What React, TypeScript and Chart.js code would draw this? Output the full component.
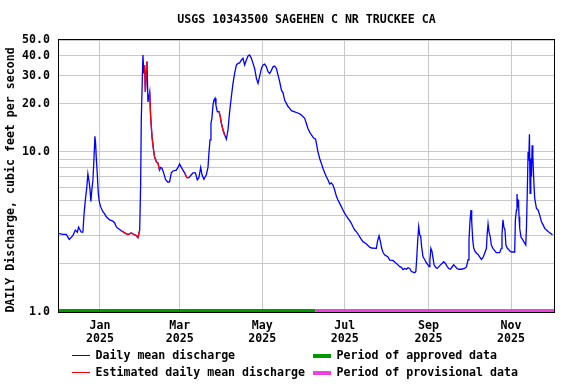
import React, { useEffect, useRef } from 'react';
import { Chart, registerables } from 'chart.js';

Chart.register(...registerables);

const TITLE = 'USGS 10343500 SAGEHEN C NR TRUCKEE CA';
const Y_TITLE = 'DAILY Discharge, cubic feet per second';

// Days counted from 2024-12-01
const flowDays = [
  0, 3.6, 6.1, 8.3, 11, 12.8, 14.3, 15.2, 17.2, 18.4, 19.2, 20.2, 21.2, 22.1, 22.9, 23.6, 24.3, 25.1, 25.8, 26.6,
  27.3, 27.8, 28.3, 29, 29.8, 30.5, 31.5, 33.2, 34.5, 35.7, 38.2, 40.6, 41.9, 43.1, 44.3, 46.8, 49.3, 51.7, 54.2, 56.1,
  57.9, 59.1, 60.4, 61.1, 61.6, 62.8, 63.5, 64, 64.6, 65.3, 65.8, 66.5, 67.8, 68.5, 69.5, 70.5, 71.4, 72.7, 73.9, 75.1,
  75.9, 76.9, 78.1, 79.6, 81.3, 82.5, 83.8, 85, 87.5, 88.7, 89.9, 91.2, 92.4, 93.6, 95.3, 96.8, 98.6, 99.8, 101.6, 103,
  104.2, 105.5, 106.5, 107.9, 109.7, 110.9, 111.6, 112.4, 113.1, 113.8, 114.6, 115.3, 116.1, 116.8, 117.8, 119, 120, 120.8, 122, 123.2,
  124.5, 125.7, 126.9, 128.2, 129.4, 130.6, 131.9, 133.1, 134.3, 135.6, 136.8, 138, 139.3, 140.5, 141.7, 143, 144.2, 145.4, 146.7, 147.9,
  149.1, 150.4, 151.6, 152.8, 154.1, 155.3, 156.5, 157.8, 159, 160.2, 161.5, 162.7, 163.9, 165.2, 166.4, 167.6, 168.9, 170.1, 171.3, 172.6,
  175, 177.4, 178.7, 179.9, 182.4, 183.6, 184.8, 186.1, 187.3, 189, 190.5, 191.5, 192.2, 193.5, 194.7, 195.9, 197.2, 198.4, 199.6, 200.9,
  202.1, 203.3, 204.6, 205.8, 207, 208.3, 209.5, 210.7, 212, 213.2, 214.4, 215.7, 216.9, 218.1, 219.4, 220.6, 221.8, 223.1, 224.3, 225.5,
  226.8, 228, 229.2, 230.5, 231.7, 235.4, 236.2, 237.4, 238.4, 239.3, 240.3, 241.6, 242.8, 244, 245.3, 247.7, 249, 250.2, 251.4, 252.7,
  253.9, 255.1, 256.4, 257.6, 258.8, 260.1, 261.3, 263.8, 264.6, 265.3, 266, 266.7, 267.5, 268.2, 268.9, 269.9, 271.2, 272.4, 273.6, 274.4,
  275, 275.7, 276.5, 277.3, 278.1, 279.1, 280.3, 281.7, 282.8, 284, 285.2, 286.5, 287.7, 288.9, 290.2, 291.4, 292.6, 293.9, 295, 296.3,
  298.3, 300.7, 302, 303.2, 303.9, 304.7, 305.4, 305.9, 306.7, 307.4, 308.3, 309.4, 310.6, 311.8, 313.1, 314.3, 315.5, 316.8, 317.3, 318,
  318.7, 319.7, 320.4, 321.6, 322.9, 324.1, 326.6, 327.8, 328.3, 329, 329.7, 330.5, 331.2, 332.3, 333.5, 334.5, 335.5, 337.7, 338.2, 339,
  339.4, 339.9, 340.5, 340.9, 341.4, 342.4, 343.4, 344.4, 345.9, 346.4, 347.1, 347.6, 348.1, 348.6, 349.1, 349.6, 350.1, 350.6, 351.1, 351.9,
  352.5, 353.8, 355, 356.2, 357.5, 358.7, 359.9, 361.2, 362.4, 363.6, 364.9, 365.6,
];

const flowValues = [
  3.1, 3.05, 3.05, 2.84, 3.0, 3.25, 3.15, 3.39, 3.15, 3.15, 4.03, 5.0, 5.9, 7.3, 6.6, 5.9, 4.9, 5.9, 6.6, 9.1,
  12.5, 11.3, 9.2, 7.4, 5.5, 4.9, 4.55, 4.23, 4.1, 3.93, 3.76, 3.7, 3.6, 3.41, 3.33, 3.22, 3.12, 3.05, 3.12, 3.05,
  3.0, 2.92, 3.25, 6.2, 16.2, 40.3, 30.9, 34.9, 23.7, 32.3, 36.7, 20.5, 23.7, 16.6, 12.5, 10.5, 9.3, 8.7, 8.5, 7.7,
  8.0, 7.9, 7.4, 6.7, 6.46, 6.5, 7.4, 7.6, 7.7, 8.0, 8.4, 8.0, 7.7, 7.4, 6.9, 6.9, 7.2, 7.4, 7.4, 6.7,
  6.9, 8.0, 7.2, 6.74, 7.2, 8.0, 9.8, 11.9, 15.1, 16.2, 19.6, 21.0, 21.6, 19.6, 17.8, 17.9, 16.6, 15.1, 13.7, 12.8,
  12.0, 13.7, 17.8, 22.2, 26.8, 30.9, 34.9, 35.7, 36, 37.5, 38.4, 34.9, 37.5, 39.7, 40.3, 38.4, 35.7, 33.2, 28.8, 26.8,
  29.6, 33.2, 34.9, 35.3, 34.0, 31.7, 30.9, 32.3, 34.0, 34.4, 33.2, 30.2, 27.5, 24.3, 23.4, 21.0, 20.1, 19.2, 18.7, 18.1,
  17.8, 17.5, 17.3, 17.0, 16.2, 15.1, 14.0, 13.3, 12.8, 12.2, 12.0, 10.8, 10.0, 9.1, 8.5, 7.9, 7.4, 7.0, 6.7, 6.3,
  6.4, 6.2, 5.78, 5.3, 5.0, 4.77, 4.55, 4.34, 4.13, 3.98, 3.85, 3.72, 3.58, 3.41, 3.25, 3.18, 3.07, 2.95, 2.84, 2.75,
  2.71, 2.66, 2.6, 2.54, 2.51, 2.5, 2.75, 2.99, 2.75, 2.51, 2.36, 2.27, 2.24, 2.21, 2.11, 2.1, 2.05, 2.01, 1.97, 1.92,
  1.9, 1.84, 1.87, 1.85, 1.89, 1.87, 1.79, 1.76, 1.79, 2.2, 2.82, 3.41, 3.03, 2.97, 2.55, 2.21, 2.12, 2.03, 1.97, 1.92,
  2.12, 2.5, 2.4, 2.17, 1.97, 1.91, 1.87, 1.92, 1.97, 2.01, 2.06, 2.01, 1.93, 1.87, 1.85, 1.91, 1.97, 1.92, 1.87, 1.85,
  1.85, 1.87, 1.91, 2.12, 2.82, 3.76, 4.34, 3.7, 2.8, 2.5, 2.4, 2.33, 2.29, 2.21, 2.13, 2.19, 2.33, 2.5, 3.03, 3.55,
  3.17, 2.93, 2.62, 2.5, 2.42, 2.35, 2.35, 2.5, 3.03, 3.76, 3.4, 3.25, 2.62, 2.5, 2.44, 2.39, 2.37, 2.37, 3.76, 4.34,
  5.45, 4.5, 5.05, 3.93, 3.33, 2.92, 2.85, 2.75, 2.62, 3.4, 6.06, 10.0, 8.8, 12.9, 5.5, 9.1, 7.0, 11.0, 9.5, 6.36,
  5.13, 4.43, 4.34, 4.03, 3.66, 3.5, 3.33, 3.25, 3.18, 3.13, 3.07, 3.03,
];

// Estimated (red) day ranges
const estimatedRanges = [
  [46.8, 60.4],
  [64, 65.8],
  [67.8, 75.1],
  [93.6, 96.8],
  [119, 123.2],
];

const monthTickDays = [31, 90, 151, 212, 274, 335];
const monthTickLabels = [
  ['Jan', '2025'],
  ['Mar', '2025'],
  ['May', '2025'],
  ['Jul', '2025'],
  ['Sep', '2025'],
  ['Nov', '2025'],
];
const yGridValues = [1, 2, 3, 4, 5, 6, 7, 8, 9, 10, 20, 30, 40, 50];
const yLabelValues = [1, 10, 20, 30, 40, 50];
const approvedEndDay = 190.5;
const xMinDay = 0;
const xMaxDay = 367.5;

const legendLines = [
  { label: 'Daily mean discharge', color: '#0000ff' },
  { label: 'Estimated daily mean discharge', color: '#ff0000' },
];
const legendBoxes = [
  { label: 'Period of approved data', color: '#009900' },
  { label: 'Period of provisional data', color: '#f040e0' },
];

const FONT_FAMILY = '"DejaVu Sans Mono", "Liberation Mono", monospace';
const FONT_SIZE = 11.6;
const FONT = `bold ${FONT_SIZE}px ${FONT_FAMILY}`;

const decorPlugin = {
  id: 'decor',
  afterDraw(chart: any) {
    const { ctx, chartArea } = chart;
    const { left, right, top, bottom } = chartArea;
    const xs = chart.scales.x;
    ctx.save();
    // approval bars
    const xa = xs.getPixelForValue(xMinDay);
    const xb = xs.getPixelForValue(approvedEndDay);
    const xc = xs.getPixelForValue(xMaxDay);
    ctx.fillStyle = legendBoxes[0].color;
    ctx.fillRect(xa, bottom - 3, xb - xa, 3);
    ctx.fillStyle = legendBoxes[1].color;
    ctx.fillRect(xb, bottom - 3, xc - xb, 3);
    // frame
    ctx.strokeStyle = '#000';
    ctx.lineWidth = 1;
    ctx.strokeRect(left + 0.5, top - 0.5, right - left - 1, bottom - top + 1);
    // title
    ctx.fillStyle = '#000';
    ctx.font = FONT;
    ctx.textAlign = 'center';
    ctx.textBaseline = 'middle';
    ctx.fillText(TITLE, (left + right) / 2, 20);
    // y title
    ctx.save();
    ctx.translate(11, 180);
    ctx.rotate(-Math.PI / 2);
    ctx.fillText(Y_TITLE, 0, 0);
    ctx.restore();
    // legend
    ctx.textAlign = 'left';
    const rowsY = [356, 372.5];
    legendLines.forEach((it, i) => {
      const y = rowsY[i];
      ctx.strokeStyle = it.color;
      ctx.lineWidth = 1;
      ctx.beginPath();
      ctx.moveTo(72, Math.round(y) - 0.5);
      ctx.lineTo(90, Math.round(y) - 0.5);
      ctx.stroke();
      ctx.fillStyle = '#000';
      ctx.fillText(it.label, 95.5, y);
    });
    legendBoxes.forEach((it, i) => {
      const y = rowsY[i];
      ctx.fillStyle = it.color;
      ctx.fillRect(313, Math.round(y) - 2, 18, 4);
      ctx.fillStyle = '#000';
      ctx.fillText(it.label, 336.5, y);
    });
    ctx.restore();
  },
};

export default function App() {
  const ref = useRef<HTMLCanvasElement | null>(null);
  useEffect(() => {
    if (!ref.current) return;
    const mainData = flowDays.map((d, i) => ({ x: d, y: flowValues[i] }));
    const estData: any[] = [];
    estimatedRanges.forEach(([a, b], k) => {
      if (k > 0) estData.push({ x: (a + estimatedRanges[k - 1][1]) / 2, y: null });
      flowDays.forEach((d, i) => {
        if (d >= a - 1e-6 && d <= b + 1e-6) estData.push({ x: d, y: flowValues[i] });
      });
    });
    const tickFont = { family: FONT_FAMILY, size: FONT_SIZE, weight: 'bold' as const, lineHeight: '12.5px' };
    const chart = new Chart(ref.current, {
      type: 'line',
      data: {
        datasets: [
          {
            data: estData,
            borderColor: legendLines[1].color,
            borderWidth: 1.3,
            pointRadius: 0,
            spanGaps: false,
            tension: 0,
          },
          {
            data: mainData,
            borderColor: legendLines[0].color,
            borderWidth: 1.3,
            pointRadius: 0,
            tension: 0,
          },
        ],
      },
      options: {
        animation: false,
        responsive: false,
        devicePixelRatio: 1,
        parsing: true,
        layout: { padding: { left: 0, top: 40, right: 21, bottom: 0 } },
        plugins: { legend: { display: false }, title: { display: false }, tooltip: { enabled: false } },
        scales: {
          x: {
            type: 'linear',
            min: xMinDay,
            max: xMaxDay,
            afterFit: (s: any) => {
              s.height = 72;
            },
            afterBuildTicks: (s: any) => {
              s.ticks = monthTickDays.map((v) => ({ value: v }));
            },
            grid: { color: '#c8c8c8', lineWidth: 1, drawTicks: false },
            border: { display: false },
            ticks: {
              autoSkip: false,
              maxRotation: 0,
              padding: 8,
              color: '#000',
              font: tickFont,
              callback: (v: any) => {
                const i = monthTickDays.indexOf(Number(v));
                return i >= 0 ? monthTickLabels[i] : '';
              },
            },
          },
          y: {
            type: 'logarithmic',
            min: 1,
            max: 50,
            afterFit: (s: any) => {
              s.width = 58;
            },
            afterBuildTicks: (s: any) => {
              s.ticks = yGridValues.map((v) => ({ value: v }));
            },
            grid: { color: '#c8c8c8', lineWidth: 1, drawTicks: false },
            border: { display: false },
            ticks: {
              autoSkip: false,
              padding: 8,
              color: '#000',
              font: tickFont,
              callback: (v: any) => (yLabelValues.includes(Number(v)) ? Number(v).toFixed(1) : ''),
            },
          },
        },
      },
      plugins: [decorPlugin],
    });
    return () => chart.destroy();
  }, []);
  return (
    <div style={{ position: 'fixed', left: 0, top: 0, width: 576, height: 384, background: '#fff' }}>
      <canvas ref={ref} width={576} height={384} style={{ display: 'block', width: 576, height: 384 }} />
    </div>
  );
}
